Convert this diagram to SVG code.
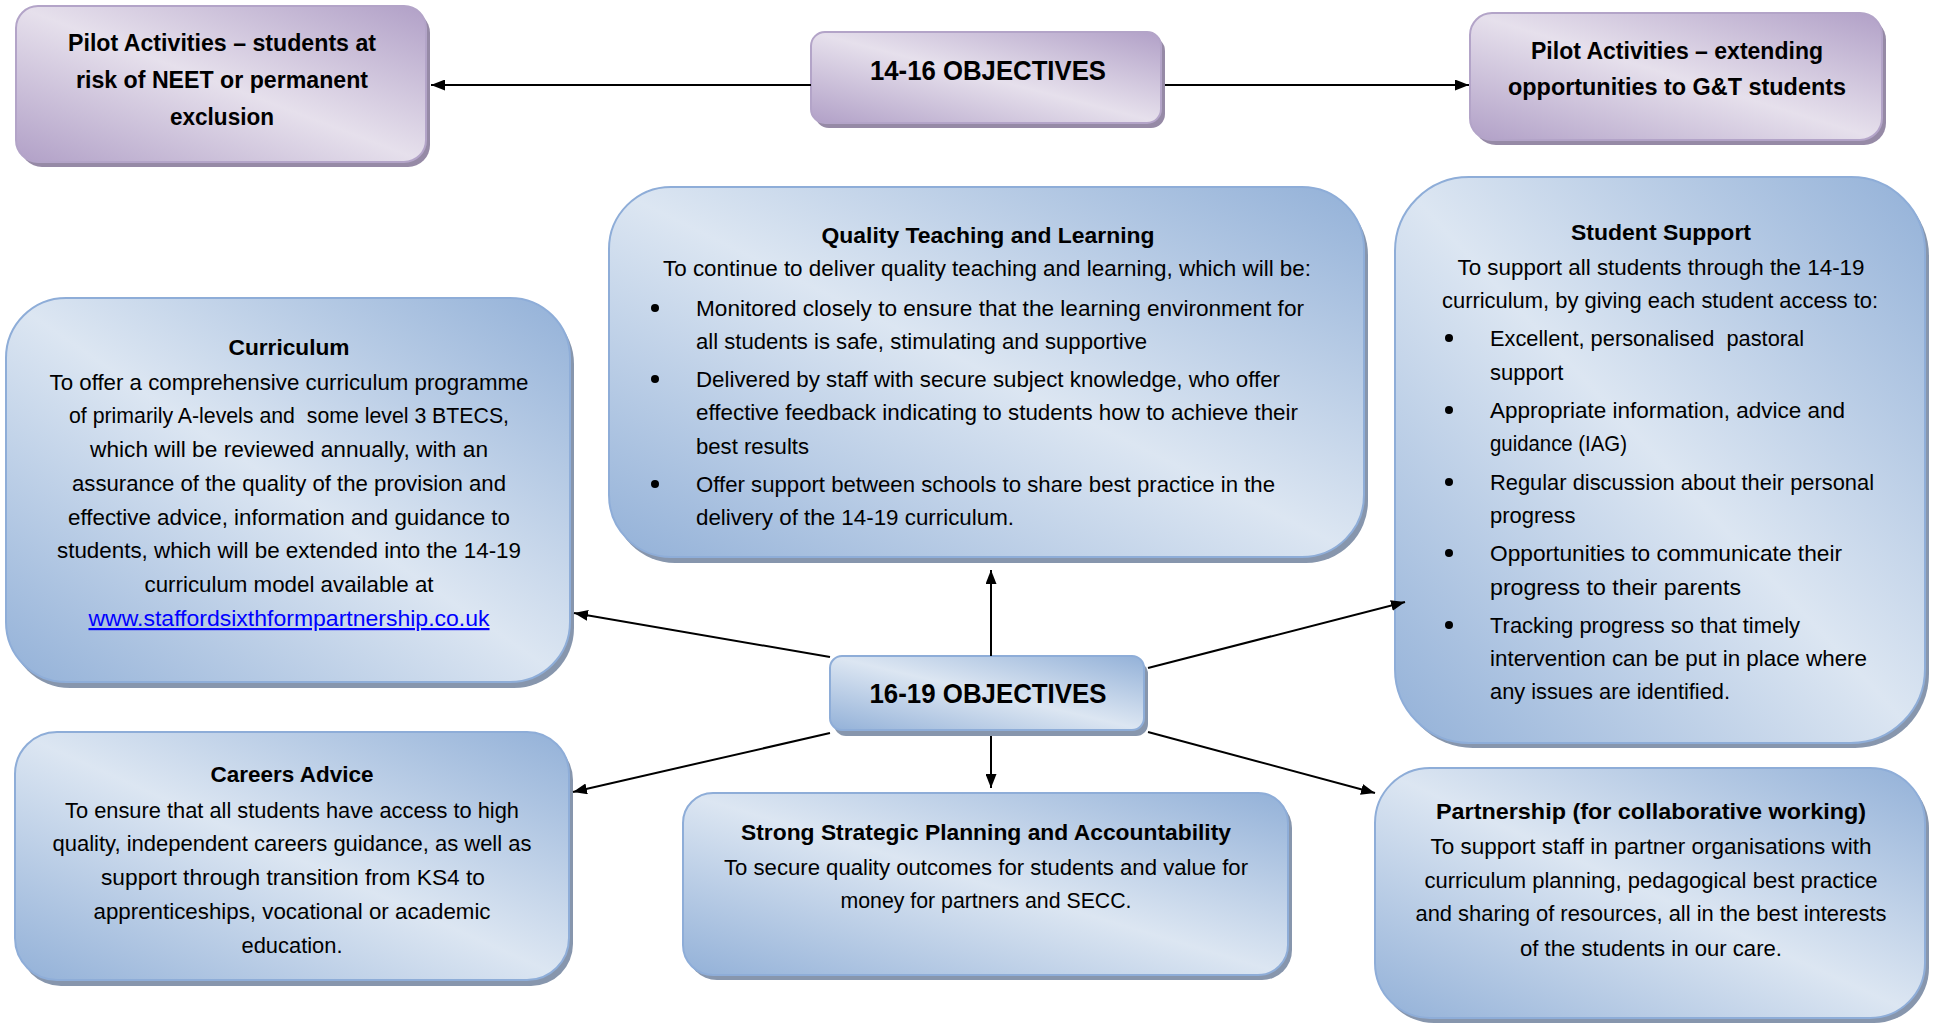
<svg xmlns="http://www.w3.org/2000/svg" width="1936" height="1023" viewBox="0 0 1936 1023">
<defs>
<linearGradient id="gb" x1="1" y1="0" x2="0" y2="1">
<stop offset="0" stop-color="#93b1d8"/>
<stop offset="0.5" stop-color="#dce6f2"/>
<stop offset="1" stop-color="#93b1d8"/>
</linearGradient>
<linearGradient id="gp" x1="1" y1="0" x2="0" y2="1">
<stop offset="0" stop-color="#b1a0c7"/>
<stop offset="0.5" stop-color="#e6e0ec"/>
<stop offset="1" stop-color="#b1a0c7"/>
</linearGradient>
<marker id="ah" markerWidth="14" markerHeight="11" refX="14" refY="5.5" orient="auto" markerUnits="userSpaceOnUse">
<path d="M0,0 L14,5.5 L0,11 z" fill="#000"/>
</marker>
</defs>
<style>
.sb { fill: #8796ad; }
.sp { fill: #968aa6; }
.nb { fill: url(#gb); stroke: #8eadd8; stroke-width: 2; }
.np { fill: url(#gp); stroke: #b3a4c8; stroke-width: 2; }
text { font-family: "Liberation Sans", Arial, sans-serif; font-size: 22px; fill: #000; }
.b { font-weight: bold; }
.c { text-anchor: middle; }
.pl { font-size: 23px; }
.big { font-size: 28px; font-weight: bold; }
.lnk { fill: #0000ff; text-decoration: underline; }
.con { stroke: #000; stroke-width: 2; fill: none; marker-end: url(#ah); }
</style>
<rect width="1936" height="1023" fill="#fff"/>

<g id="pilot-neet">
<rect class="sp" x="20" y="11" width="410" height="156" rx="22"/>
<rect class="np" x="16" y="6" width="410" height="156" rx="22"/>
<text class="b c pl" x="222" y="51" textLength="308" lengthAdjust="spacingAndGlyphs">Pilot Activities – students at</text>
<text class="b c pl" x="222" y="88" textLength="292" lengthAdjust="spacingAndGlyphs">risk of NEET or permanent</text>
<text class="b c pl" x="222" y="125" textLength="104" lengthAdjust="spacingAndGlyphs">exclusion</text>
</g>

<g id="obj-14-16">
<rect class="sp" x="815" y="37" width="350" height="91" rx="14"/>
<rect class="np" x="811" y="32" width="350" height="91" rx="14"/>
<text class="big c" x="988" y="80" textLength="236" lengthAdjust="spacingAndGlyphs">14-16 OBJECTIVES</text>
</g>

<g id="pilot-gt">
<rect class="sp" x="1474" y="18" width="412" height="127" rx="22"/>
<rect class="np" x="1470" y="13" width="412" height="127" rx="22"/>
<text class="b c pl" x="1677" y="59" textLength="292" lengthAdjust="spacingAndGlyphs">Pilot Activities – extending</text>
<text class="b c pl" x="1677" y="95" textLength="338" lengthAdjust="spacingAndGlyphs">opportunities to G&amp;T students</text>
</g>

<g id="quality">
<rect class="sb" x="613" y="193" width="755" height="370" rx="62"/>
<rect class="nb" x="609" y="187" width="755" height="370" rx="62"/>
<text class="b c" x="988" y="243" textLength="333" lengthAdjust="spacingAndGlyphs">Quality Teaching and Learning</text>
<text class="c" x="987" y="276" textLength="648" lengthAdjust="spacingAndGlyphs">To continue to deliver quality teaching and learning, which will be:</text>
<circle cx="655" cy="308" r="4"/>
<text x="696" y="316" textLength="608" lengthAdjust="spacingAndGlyphs">Monitored closely to ensure that the learning environment for</text>
<text x="696" y="349" textLength="451" lengthAdjust="spacingAndGlyphs">all students is safe, stimulating and supportive</text>
<circle cx="655" cy="379" r="4"/>
<text x="696" y="387" textLength="584" lengthAdjust="spacingAndGlyphs">Delivered by staff with secure subject knowledge, who offer</text>
<text x="696" y="420" textLength="602" lengthAdjust="spacingAndGlyphs">effective feedback indicating to students how to achieve their</text>
<text x="696" y="454" textLength="113" lengthAdjust="spacingAndGlyphs">best results</text>
<circle cx="655" cy="484" r="4"/>
<text x="696" y="492" textLength="579" lengthAdjust="spacingAndGlyphs">Offer support between schools to share best practice in the</text>
<text x="696" y="525" textLength="318" lengthAdjust="spacingAndGlyphs">delivery of the 14-19 curriculum.</text>
</g>

<g id="curriculum">
<rect class="sb" x="10" y="304" width="564" height="384" rx="60"/>
<rect class="nb" x="6" y="298" width="564" height="384" rx="60"/>
<text class="b c" x="289" y="355" textLength="121" lengthAdjust="spacingAndGlyphs">Curriculum</text>
<text class="c" x="289" y="390" textLength="479" lengthAdjust="spacingAndGlyphs">To offer a comprehensive curriculum programme</text>
<text class="c" x="289" y="423" textLength="440" lengthAdjust="spacingAndGlyphs" style="white-space:pre">of primarily A-levels and  some level 3 BTECS,</text>
<text class="c" x="289" y="457" textLength="398" lengthAdjust="spacingAndGlyphs">which will be reviewed annually, with an</text>
<text class="c" x="289" y="491" textLength="434" lengthAdjust="spacingAndGlyphs">assurance of the quality of the provision and</text>
<text class="c" x="289" y="525" textLength="442" lengthAdjust="spacingAndGlyphs">effective advice, information and guidance to</text>
<text class="c" x="289" y="558" textLength="464" lengthAdjust="spacingAndGlyphs">students, which will be extended into the 14-19</text>
<text class="c" x="289" y="592" textLength="289" lengthAdjust="spacingAndGlyphs">curriculum model available at</text>
<text class="c lnk" x="289" y="626" textLength="401" lengthAdjust="spacingAndGlyphs">www.staffordsixthformpartnership.co.uk</text>
</g>

<g id="student-support">
<rect class="sb" x="1399" y="182" width="530" height="566" rx="74"/>
<rect class="nb" x="1395" y="177" width="530" height="566" rx="74"/>
<text class="b c" x="1661" y="240" textLength="180" lengthAdjust="spacingAndGlyphs">Student Support</text>
<text class="c" x="1661" y="275" textLength="407" lengthAdjust="spacingAndGlyphs">To support all students through the 14-19</text>
<text class="c" x="1660" y="308" textLength="436" lengthAdjust="spacingAndGlyphs">curriculum, by giving each student access to:</text>
<circle cx="1449" cy="338" r="4"/>
<text x="1490" y="346" textLength="314" lengthAdjust="spacingAndGlyphs" style="white-space:pre">Excellent, personalised  pastoral</text>
<text x="1490" y="380">support</text>
<circle cx="1449" cy="410" r="4"/>
<text x="1490" y="418" textLength="355" lengthAdjust="spacingAndGlyphs">Appropriate information, advice and</text>
<text x="1490" y="451" textLength="137" lengthAdjust="spacingAndGlyphs">guidance (IAG)</text>
<circle cx="1449" cy="482" r="4"/>
<text x="1490" y="490" textLength="384" lengthAdjust="spacingAndGlyphs">Regular discussion about their personal</text>
<text x="1490" y="523">progress</text>
<circle cx="1449" cy="553" r="4"/>
<text x="1490" y="561" textLength="352" lengthAdjust="spacingAndGlyphs">Opportunities to communicate their</text>
<text x="1490" y="595" textLength="251" lengthAdjust="spacingAndGlyphs">progress to their parents</text>
<circle cx="1449" cy="625" r="4"/>
<text x="1490" y="633" textLength="310" lengthAdjust="spacingAndGlyphs">Tracking progress so that timely</text>
<text x="1490" y="666" textLength="377" lengthAdjust="spacingAndGlyphs">intervention can be put in place where</text>
<text x="1490" y="699" textLength="240" lengthAdjust="spacingAndGlyphs">any issues are identified.</text>
</g>

<g id="obj-16-19">
<rect class="sb" x="834" y="662" width="314" height="74" rx="12"/>
<rect class="nb" x="830" y="656" width="314" height="74" rx="12"/>
<text class="big c" x="988" y="703" textLength="237" lengthAdjust="spacingAndGlyphs">16-19 OBJECTIVES</text>
</g>

<g id="careers">
<rect class="sb" x="19" y="738" width="554" height="248" rx="42"/>
<rect class="nb" x="15" y="732" width="554" height="248" rx="42"/>
<text class="b c" x="292" y="782" textLength="163" lengthAdjust="spacingAndGlyphs">Careers Advice</text>
<text class="c" x="292" y="818" textLength="454" lengthAdjust="spacingAndGlyphs">To ensure that all students have access to high</text>
<text class="c" x="292" y="851" textLength="479" lengthAdjust="spacingAndGlyphs">quality, independent careers guidance, as well as</text>
<text class="c" x="293" y="885" textLength="384" lengthAdjust="spacingAndGlyphs">support through transition from KS4 to</text>
<text class="c" x="292" y="919" textLength="397" lengthAdjust="spacingAndGlyphs">apprenticeships, vocational or academic</text>
<text class="c" x="292" y="953" textLength="101" lengthAdjust="spacingAndGlyphs">education.</text>
</g>

<g id="strategic">
<rect class="sb" x="687" y="798" width="605" height="182" rx="30"/>
<rect class="nb" x="683" y="793" width="605" height="182" rx="30"/>
<text class="b c" x="986" y="840" textLength="490" lengthAdjust="spacingAndGlyphs">Strong Strategic Planning and Accountability</text>
<text class="c" x="986" y="875" textLength="524" lengthAdjust="spacingAndGlyphs">To secure quality outcomes for students and value for</text>
<text class="c" x="986" y="908" textLength="291" lengthAdjust="spacingAndGlyphs">money for partners and SECC.</text>
</g>

<g id="partnership">
<rect class="sb" x="1379" y="773" width="550" height="250" rx="55"/>
<rect class="nb" x="1375" y="768" width="550" height="250" rx="55"/>
<text class="b c" x="1651" y="819" textLength="430" lengthAdjust="spacingAndGlyphs">Partnership (for collaborative working)</text>
<text class="c" x="1651" y="854" textLength="441" lengthAdjust="spacingAndGlyphs">To support staff in partner organisations with</text>
<text class="c" x="1651" y="888" textLength="453" lengthAdjust="spacingAndGlyphs">curriculum planning, pedagogical best practice</text>
<text class="c" x="1651" y="921" textLength="471" lengthAdjust="spacingAndGlyphs">and sharing of resources, all in the best interests</text>
<text class="c" x="1651" y="956" textLength="262" lengthAdjust="spacingAndGlyphs">of the students in our care.</text>
</g>

<g id="connectors">
<path class="con" d="M811,85 H431"/>
<path class="con" d="M1165,85 H1469"/>
<path class="con" d="M991,656 V570"/>
<path class="con" d="M830,657 L574,613"/>
<path class="con" d="M1148,668 L1405,602"/>
<path class="con" d="M830,733 L573,792"/>
<path class="con" d="M991,736 V788"/>
<path class="con" d="M1148,732 L1375,793"/>
</g>
</svg>
